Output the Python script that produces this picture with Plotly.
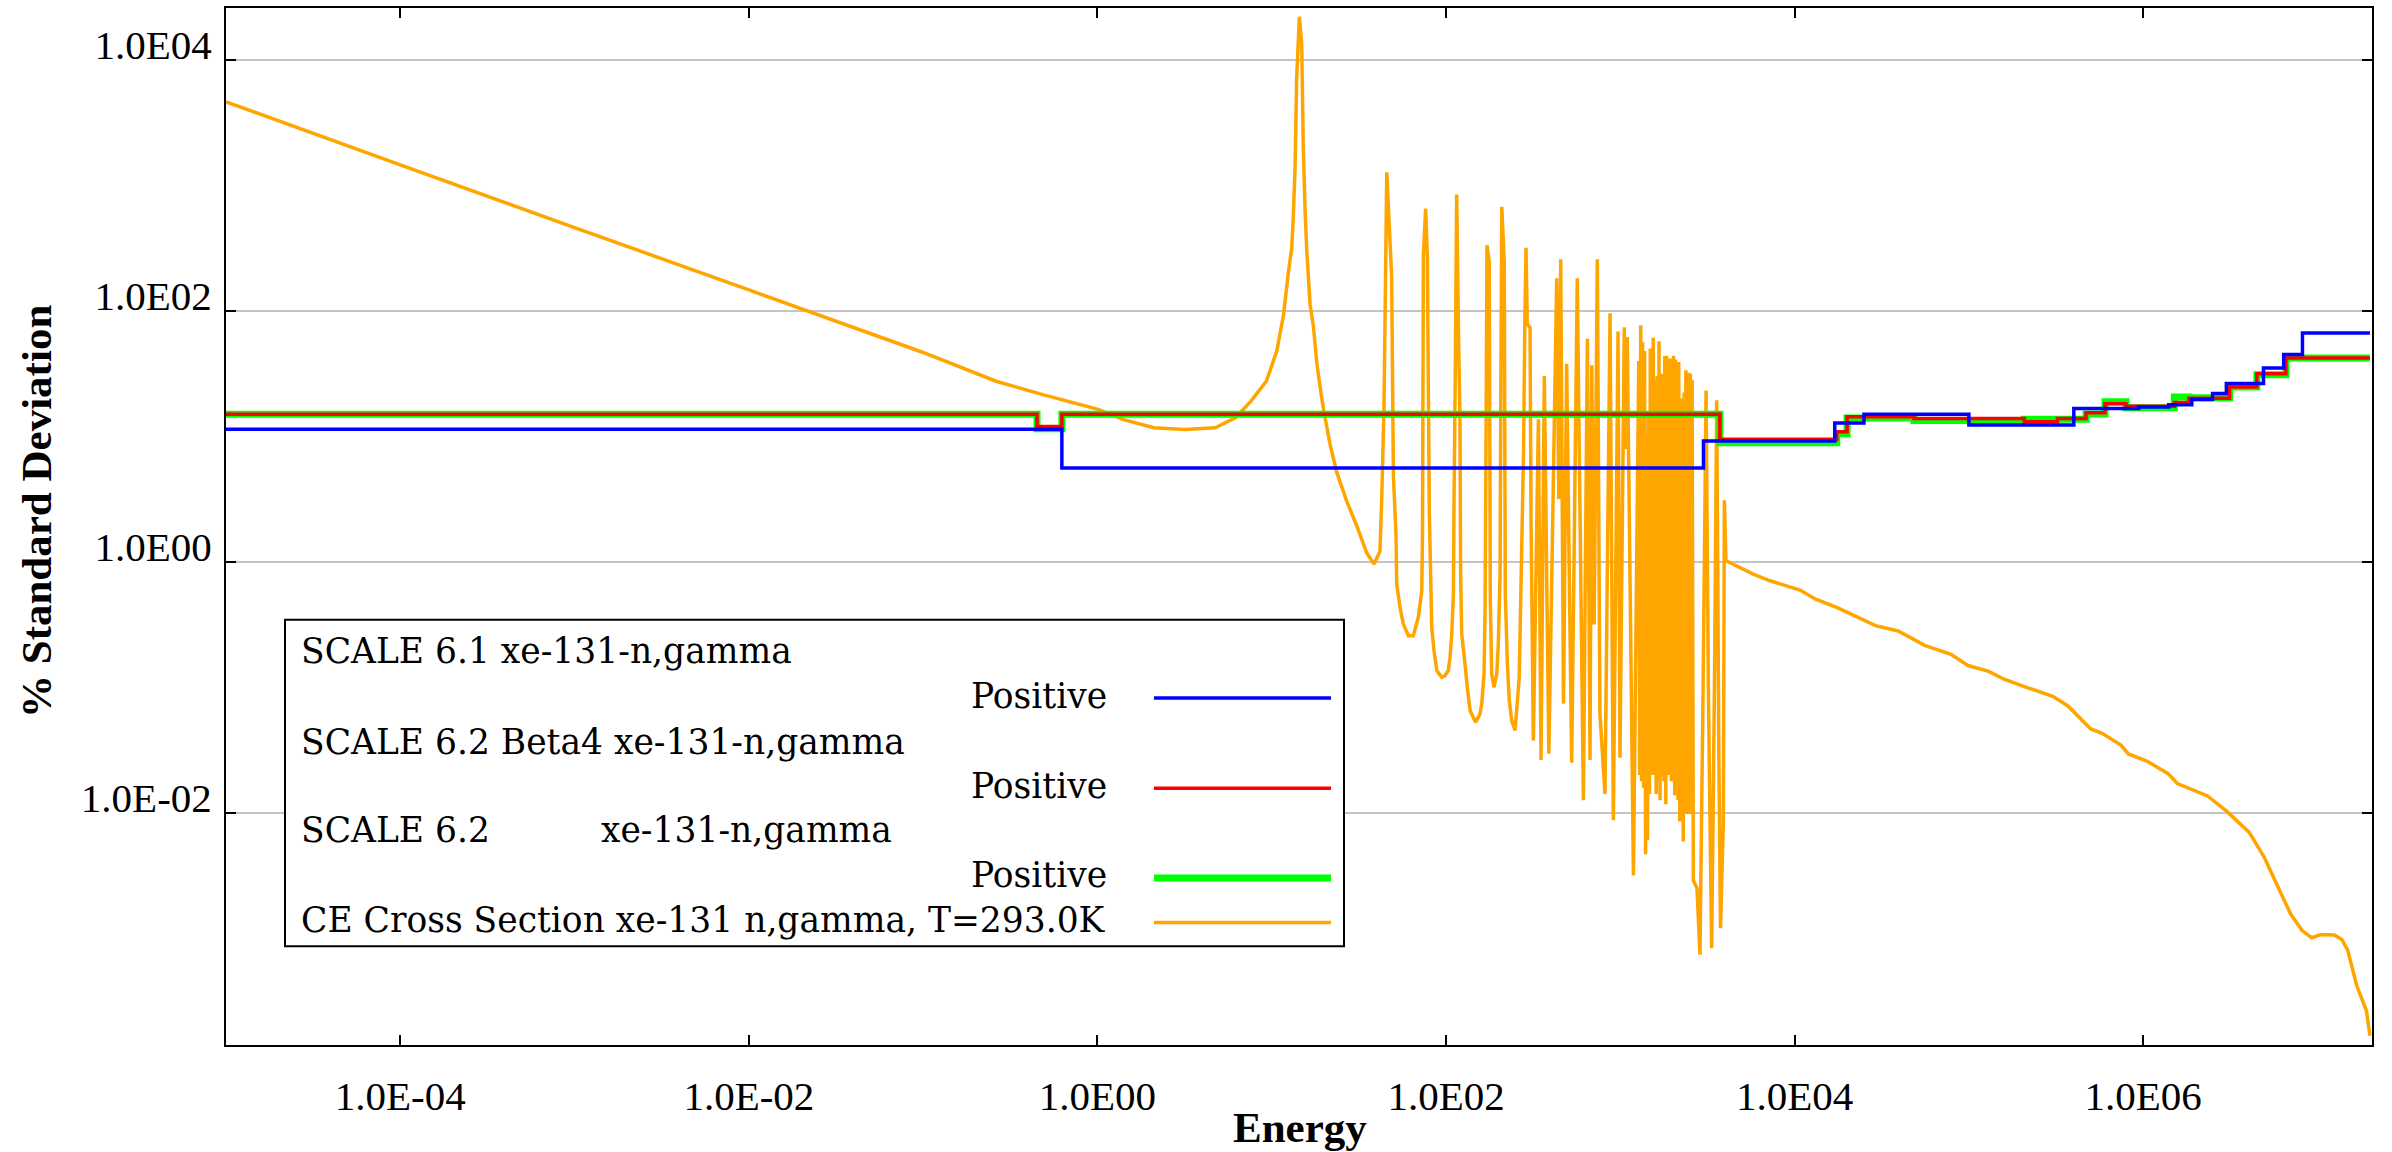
import plotly.graph_objects as go

# ---------------------------------------------------------------------------
# Data
# ---------------------------------------------------------------------------
# Multigroup relative uncertainty (% standard deviation) of Xe-131 (n,gamma)
# Group boundaries in eV, one value per group.
scale61_edges = [1.0e-5, 0.625, 3000, 17000, 25000, 1.0e5, 4.0e5, 9.4e5, 1.4e6,
                 1.9e6, 2.5e6, 3.0e6, 4.9e6, 6.4e6, 8.2e6, 2.0e7]
scale61_sd = [11.4, 5.6, 9.2, 12.8, 15.0, 12.3, 16.7, 17.1, 17.9, 19.7, 22.0,
              26.4, 35.1, 44.9, 66.7]

scale62_edges = [1.0e-5, 0.45, 0.625, 3725, 17460, 20000, 48400, 2.08e5, 3.22e5,
                 4.70e5, 6.04e5, 7.96e5, 1.51e6, 1.83e6, 3.13e6, 4.49e6, 6.59e6, 2.0e7]
scale62b4_sd = [15.0, 12.0, 15.0, 9.5, 10.9, 14.3, 13.9, 13.1, 13.9, 15.4, 18.2,
                17.4, 18.6, 20.1, 24.7, 31.5, 42.2]
scale62_sd = [15.0, 11.5, 15.0, 8.9, 10.5, 14.0, 13.4, 13.7, 13.7, 15.1, 18.9,
              16.9, 20.6, 20.3, 24.7, 31.0, 42.2]

# Continuous-energy (n,gamma) cross section at 293 K (energy in eV, value in b)
ce_energy = [
    1.0e-5, 1.0e-4, 1.0e-3, 1.0e-2, 0.1, 0.262, 0.480, 1.01, 1.41, 2.11, 3.17,
    4.74, 6.21, 7.60, 9.31,
    10.69, 11.67, 12.45, 13.03, 13.30, 13.61, 13.90, 14.41, 14.86, 15.17, 15.52,
    15.89, 16.60, 17.34, 18.11, 18.92, 19.77, 21.58, 23.60, 26.92, 30.76, 35.08,
    38.64, 41.78,
    42.76, 44.06, 45.71, 48.75, 49.89, 51.64, 52.12, 54.45, 56.89, 60.81, 64.86,
    69.34, 72.61,
    73.28, 74.13, 76.38, 78.16, 80.17, 82.79, 85.31, 88.51, 94.41, 98.63, 103.0,
    105.4, 107.9, 110.2,
    111.2, 113.0, 115.1, 118.0, 120.2, 121.3, 123.0, 128.5, 132.4, 137.4, 147.9,
    156.7, 160.3, 165.2, 167.5,
    169.4, 171.8, 177.0, 179.5, 182.8, 188.4, 195.4, 199.5, 204.2,
    206.1, 208.9, 215.8, 218.8, 224.9, 230.7, 238.2, 248.9, 263.0,
    278.6, 283.1, 287.7, 292.4, 303.4, 307.6, 317.0,
    338.8, 350.8, 366.4, 389.0,
    431.5, 443.6, 455.0, 472.1, 492.0, 526.0, 566.2, 613.8,
    647.1, 669.9, 685.5, 707.9, 738.0, 763.8, 816.6, 873.0, 912.0,
    970.5, 995.4, 1054, 1076, 1096, 1189,
    1276, 1291, 1309, 1324, 1343, 1361, 1377, 1396, 1413, 1432, 1449, 1469,
    1486, 1514, 1545, 1567, 1585, 1607, 1626, 1648, 1667, 1690, 1710, 1734,
    1754, 1778, 1799, 1824, 1845, 1871, 1892, 1919, 1941, 1963, 1986, 2004,
    2023, 2051, 2075, 2099, 2118, 2143, 2163, 2193, 2218, 2244, 2270, 2296,
    2323, 2350, 2377, 2404, 2432, 2449, 2466, 2495, 2523, 2553, 2582, 2624,
    2754, 2864, 2985, 3105, 3199, 3342, 3467, 3573, 3673, 3758, 3899, 3954, 4036,
    5794, 7228, 10740, 13120, 17700, 29110, 39260, 55720, 78890, 98850,
    1.30e5, 1.59e5, 2.14e5, 3.03e5, 3.70e5, 5.00e5, 5.81e5, 7.45e5, 8.22e5,
    1.05e6, 1.39e6, 1.57e6, 2.34e6, 3.01e6, 4.06e6, 4.95e6, 5.90e6, 7.03e6,
    8.17e6, 9.25e6, 1.05e7, 1.25e7, 1.38e7, 1.49e7, 1.68e7, 1.91e7, 2.0e7,
]
ce_value = [
    4640, 1460, 461, 147, 46.6, 27.5, 21.6, 16.4, 13.6, 11.7, 11.35,
    11.7, 14.1, 19.1, 27.5,
    47.8, 91.8, 201, 318, 573, 1387, 7110, 22100, 13200, 1990, 655,
    298, 112, 75.3, 39.2, 24.8, 16.8, 8.71, 5.16, 3.05, 1.93, 1.175,
    0.959, 1.22,
    3.16, 16.8, 1274, 188, 4.83, 1.64, 0.665, 0.433, 0.319, 0.258, 0.258,
    0.361, 0.587,
    1.70, 270, 653, 269, 2.51, 0.300, 0.196, 0.136, 0.120, 0.124, 0.136,
    0.173, 0.266, 0.553,
    3.29, 31.6, 847, 63.1, 13.7, 0.798, 0.266, 0.153, 0.100, 0.0653, 0.0527,
    0.0614, 0.0738, 0.128, 0.407,
    6.31, 333, 245, 0.501, 0.128, 0.100, 0.128, 0.221, 0.798,
    15.8, 675, 245, 0.553, 0.153, 0.0783, 0.0543, 0.0453, 0.120,
    7.94, 79.4, 318, 79.4, 73.0, 2.0, 0.0377,
    13.7, 0.0263, 30.2, 0.0295,
    182, 3.16, 258, 0.0741, 37.9, 0.0251, 182, 0.0126,
    60.0, 0.0263, 36.9, 0.316, 258, 0.0617, 0.0141, 95.9, 0.00871,
    68.4, 0.0275, 74.0, 7.94, 61.9, 0.00316,
    39.8, 0.0200, 76.7, 0.0178, 56.2, 0.0158, 47.9, 0.00468, 10.0, 0.00603,
    15.8, 0.0141,
    50.1, 0.0200, 61.2, 0.0200, 28.2, 0.0141, 30.2, 0.0178, 57.3, 0.0126,
    31.6, 0.0200,
    31.6, 0.0178, 43.6, 0.0117, 43.9, 0.0200, 40.7, 0.0219, 41.7, 0.0178,
    35.5, 0.0200,
    43.9, 0.0138, 40.7, 0.0158, 31.6, 0.0126, 39.2, 0.00851, 20.0, 0.0158,
    20.0, 0.00589,
    22.4, 0.0126, 33.7, 0.00977, 28.2, 0.0178, 32.2, 0.00977, 31.6, 0.0158,
    28.2, 0.00288,
    0.00251, 0.000741, 0.100, 23.2, 0.100, 0.000832, 0.100, 19.4, 0.0316,
    0.00120, 0.00832, 3.10, 1.02,
    0.798, 0.706, 0.596, 0.506, 0.430, 0.310, 0.281, 0.216, 0.183, 0.149,
    0.134, 0.116, 0.100, 0.0847, 0.0710, 0.0465, 0.0430, 0.0346, 0.0294,
    0.0258, 0.0205, 0.0171, 0.0136, 0.0103, 0.00697, 0.00441, 0.00261, 0.00155,
    0.00115, 0.00101, 0.00107, 0.00106, 0.000977, 0.000804, 0.000418, 0.000264,
    0.000167,
]

x_tick_vals = [1e-4, 1e-2, 1, 1e2, 1e4, 1e6]
x_tick_text = ["1.0E-04", "1.0E-02", "1.0E00", "1.0E02", "1.0E04", "1.0E06"]
y_tick_vals = [1e-2, 1, 1e2, 1e4]
y_tick_text = ["1.0E-02", "1.0E00", "1.0E02", "1.0E04"]

legend_rows = [
    ("SCALE 6.1 xe-131-n,gamma", None),
    ("Positive", "#0000FF"),
    ("SCALE 6.2 Beta4 xe-131-n,gamma", None),
    ("Positive", "#FF0000"),
    ("SCALE 6.2", None),
    ("Positive", "#00FF00"),
    ("CE Cross Section xe-131 n,gamma, T=293.0K", "#FFA500"),
]

# ---------------------------------------------------------------------------
# Page geometry (pixels)
# ---------------------------------------------------------------------------
W, H = 2392, 1152
ML, MR, MT, MB = 226, 20, 6, 107
PW = W - ML - MR
PH = H - MT - MB


def paper_x(p):
    return (p - ML) / PW


def paper_y(p):
    return (H - MB - p) / PH


def step_xy(edges, vals):
    return list(edges), list(vals) + [vals[-1]]


fig = go.Figure()

fig.add_trace(go.Scatter(x=ce_energy, y=ce_value, mode="lines",
                         line=dict(color="#FFA500", width=3.5, simplify=False),
                         showlegend=False, hoverinfo="skip"))

gx, gy = step_xy(scale62_edges, scale62_sd)
fig.add_trace(go.Scatter(x=gx, y=gy, mode="lines", line_shape="hv",
                         line=dict(color="#00FF00", width=7),
                         showlegend=False))
rx, ry = step_xy(scale62_edges, scale62b4_sd)
fig.add_trace(go.Scatter(x=rx, y=ry, mode="lines", line_shape="hv",
                         line=dict(color="#FF0000", width=3.5),
                         showlegend=False))
bx, by = step_xy(scale61_edges, scale61_sd)
fig.add_trace(go.Scatter(x=bx, y=by, mode="lines", line_shape="hv",
                         line=dict(color="#0000FF", width=3.5),
                         showlegend=False))

tick_font = dict(family="Liberation Serif", size=41, color="black")
axis_common = dict(
    type="log", ticks="inside", ticklen=10, tickwidth=2, tickcolor="black",
    showline=True, linecolor="black", linewidth=2, mirror="ticks",
    zeroline=False, tickfont=tick_font,
)

fig.update_layout(
    width=W, height=H,
    margin=dict(l=ML, r=MR, t=MT, b=MB, pad=0),
    paper_bgcolor="white", plot_bgcolor="white",
    showlegend=False,
    xaxis=dict(range=[-5, 7.3128], tickvals=x_tick_vals, ticktext=x_tick_text,
               showgrid=False, ticklabelstandoff=14, **axis_common),
    yaxis=dict(range=[-3.851, 4.414], tickvals=y_tick_vals, ticktext=y_tick_text,
               showgrid=True, gridcolor="#c4c4c4", gridwidth=2,
               ticklabelshift=-15, ticklabelstandoff=4, **axis_common),
)

# Axis titles
title_font = dict(family="Liberation Serif", size=43, color="black", weight="bold")
fig.add_annotation(text="Energy", xref="paper", yref="paper",
                   x=paper_x(1300), y=paper_y(1128), xanchor="center", yanchor="middle",
                   showarrow=False, font=title_font)
fig.add_annotation(text="% Standard Deviation", xref="paper", yref="paper",
                   x=paper_x(36), y=paper_y(511), xanchor="center", yanchor="middle",
                   textangle=-90, showarrow=False, font=title_font)

# Legend box
fig.add_shape(type="rect", xref="paper", yref="paper",
              x0=paper_x(285), x1=paper_x(1344), y0=paper_y(946), y1=paper_y(619),
              line=dict(color="black", width=2), fillcolor="white", layer="above")

leg_font = dict(family="DejaVu Serif", size=34.5, color="black")
row_y = [650.5, 695, 741.3, 785, 830, 875, 920.2]
line_y = [None, 697.3, None, 787.7, None, 877.7, 922.3]
line_w = {"#0000FF": 3.5, "#FF0000": 3.5, "#00FF00": 7, "#FFA500": 3.5}
for (label, color), yc, ly in zip(legend_rows, row_y, line_y):
    if label == "Positive":
        fig.add_annotation(text=label, xref="paper", yref="paper",
                           x=paper_x(1109), y=paper_y(yc), xanchor="right",
                           yanchor="middle", showarrow=False, font=leg_font)
    elif label == "SCALE 6.2":
        fig.add_annotation(text=label, xref="paper", yref="paper",
                           x=paper_x(299), y=paper_y(yc), xanchor="left",
                           yanchor="middle", showarrow=False, font=leg_font)
        fig.add_annotation(text="xe-131-n,gamma", xref="paper", yref="paper",
                           x=paper_x(599), y=paper_y(yc), xanchor="left",
                           yanchor="middle", showarrow=False, font=leg_font)
    else:
        fig.add_annotation(text=label, xref="paper", yref="paper",
                           x=paper_x(299), y=paper_y(yc), xanchor="left",
                           yanchor="middle", showarrow=False, font=leg_font)
    if color is not None:
        fig.add_shape(type="line", xref="paper", yref="paper",
                      x0=paper_x(1154), x1=paper_x(1331),
                      y0=paper_y(ly), y1=paper_y(ly),
                      line=dict(color=color, width=line_w[color]), layer="above")

fig.write_html("out.html")
